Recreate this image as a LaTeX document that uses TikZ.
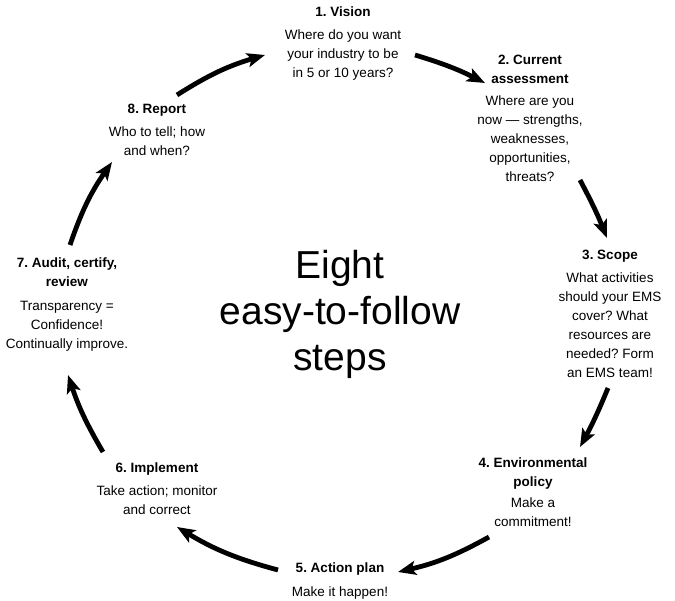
\documentclass[tikz,border=0pt]{standalone}
\usepackage{fontspec}
\setmainfont{Liberation Sans}
\usetikzlibrary{arrows.meta}
\frenchspacing

\begin{document}
\begin{tikzpicture}[
    x=1pt, y=-1pt,
    every node/.style={font=\fontsize{13.5}{19}\selectfont, align=center, inner sep=0pt},
    stepbox/.style={anchor=north},
    headline/.style={font=\fontsize{39}{46}\selectfont},
    flow/.style={line width=4.8pt, -{Stealth[length=18pt, width=14pt, inset=4pt]}}
]

% Page frame
\useasboundingbox (0,0) rectangle (675,601);

% Centre title
\node[headline] (title) at (340,314) {Eight\\easy-to-follow\\steps};

% Steps, clockwise from the top
\node[stepbox] (s1) at (343,7) {\textbf{1. Vision}\\[4pt]
    Where do you want\\your industry to be\\in 5 or 10 years?};
\node[stepbox] (s2) at (530,55) {\textbf{2. Current}\\\textbf{assessment}\\[3pt]
    Where are you\\now — strengths,\\weaknesses,\\opportunities,\\threats?};
\node[stepbox] (s3) at (610,250) {\textbf{3. Scope}\\[4pt]
    What activities\\should your EMS\\cover? What\\resources are\\needed? Form\\an EMS team!};
\node[stepbox] (s4) at (533,458) {\textbf{4. Environmental}\\\textbf{policy}\\[2pt]
    Make a\\commitment!};
\node[stepbox] (s5) at (340,563) {\textbf{5. Action plan}\\[5pt]
    Make it happen!};
\node[stepbox] (s6) at (157,463) {\textbf{6. Implement}\\[4pt]
    Take action; monitor\\and correct};
\node[stepbox] (s7) at (67,258) {\textbf{7. Audit, certify,}\\\textbf{review}\\[5pt]
    Transparency =\\Confidence!\\Continually improve.};
\node[stepbox] (s8) at (157,104) {\textbf{8. Report}\\[4pt]
    Who to tell; how\\and when?};

% Arrow ends (out of one step, into the next)
\coordinate (out8) at (177,95);  \coordinate (in1) at (265,55);
\coordinate (out1) at (415,55);  \coordinate (in2) at (485,83);
\coordinate (out2) at (580,180); \coordinate (in3) at (607,238);
\coordinate (out3) at (608,388); \coordinate (in4) at (580,447);
\coordinate (out4) at (489,537); \coordinate (in5) at (398,572);
\coordinate (out5) at (278,570); \coordinate (in6) at (177,527);
\coordinate (out6) at (103,452); \coordinate (in7) at (68,375);
\coordinate (out7) at (70,245);  \coordinate (in8) at (112,162);

% Cycle arrows
\foreach \a/\b/\bnd in {8/1/8, 1/2/5, 2/3/3, 3/4/3, 4/5/8, 5/6/8, 6/7/6, 7/8/8} {
    \draw[flow] (out\a) to[bend left=\bnd] (in\b);
}

\end{tikzpicture}
\end{document}
